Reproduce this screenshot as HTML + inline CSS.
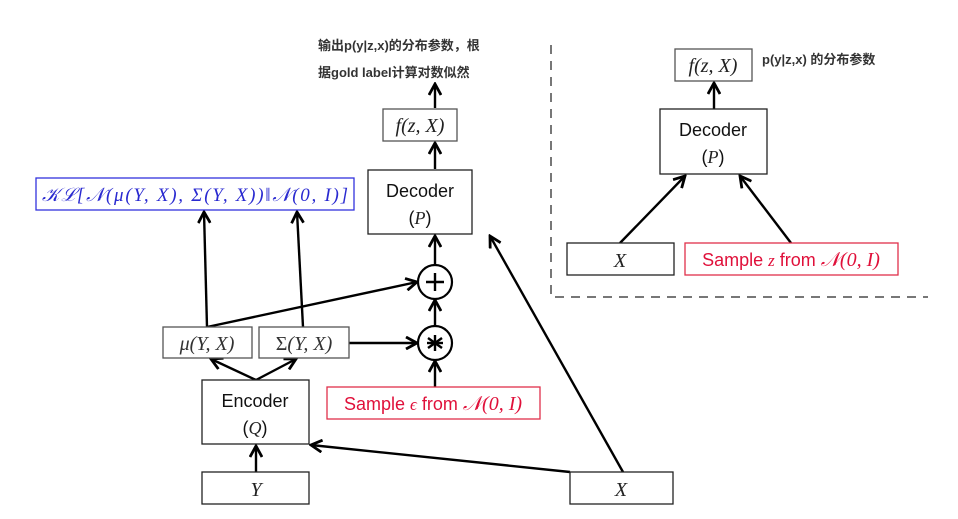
<!DOCTYPE html>
<html><head><meta charset="utf-8"><style>
html,body{margin:0;padding:0;background:#fff;}
svg{display:block;}
.cn{font-family:"Liberation Sans","Noto Sans CJK SC",sans-serif;font-size:13px;font-weight:bold;fill:#333;}
.m{font-family:"Liberation Serif",serif;font-style:italic;font-size:20px;fill:#222;}
.s{font-family:"Liberation Sans","DejaVu Sans",sans-serif;font-size:18px;fill:#111;}
</style></head><body>
<svg width="958" height="519" viewBox="0 0 958 519" xmlns="http://www.w3.org/2000/svg">
<defs>
<marker id="a" viewBox="0 0 14 14" refX="12" refY="7" markerWidth="14" markerHeight="14" markerUnits="userSpaceOnUse" orient="auto">
<polyline points="1,1 12,7 1,13" fill="none" stroke="#000" stroke-width="2.8"/>
</marker>
</defs>
<g fill="none" stroke="#000" stroke-width="2.4">
<line x1="435" y1="108" x2="435" y2="84" marker-end="url(#a)"/>
<line x1="435" y1="169" x2="435" y2="143" marker-end="url(#a)"/>
<line x1="435" y1="265" x2="435" y2="236" marker-end="url(#a)"/>
<line x1="435" y1="326" x2="435" y2="300" marker-end="url(#a)"/>
<line x1="435" y1="387" x2="435" y2="361" marker-end="url(#a)"/>
<line x1="207" y1="327" x2="417" y2="282" marker-end="url(#a)"/>
<line x1="349" y1="343" x2="417" y2="343" marker-end="url(#a)"/>
<line x1="207" y1="327" x2="204" y2="212" marker-end="url(#a)"/>
<line x1="303" y1="327" x2="297" y2="212" marker-end="url(#a)"/>
<line x1="256" y1="380" x2="211" y2="359" marker-end="url(#a)"/>
<line x1="256" y1="380" x2="296" y2="359" marker-end="url(#a)"/>
<line x1="256" y1="472" x2="256" y2="446" marker-end="url(#a)"/>
<line x1="570" y1="472" x2="311" y2="445" marker-end="url(#a)"/>
<line x1="623" y1="472" x2="490" y2="236" marker-end="url(#a)"/>
<line x1="714" y1="109" x2="714" y2="83" marker-end="url(#a)"/>
<line x1="620" y1="243" x2="685" y2="176" marker-end="url(#a)"/>
<line x1="791" y1="243" x2="740" y2="176" marker-end="url(#a)"/>
</g>
<g fill="#fff" stroke-width="1.3">
<rect x="383" y="109" width="74" height="32" stroke="#555"/>
<rect x="368" y="170" width="104" height="64" stroke="#222"/>
<rect x="36" y="178" width="318" height="32" stroke="#3333dd"/>
<rect x="163" y="327" width="89" height="31" stroke="#555"/>
<rect x="259" y="327" width="90" height="31" stroke="#555"/>
<rect x="202" y="380" width="107" height="64" stroke="#222"/>
<rect x="327" y="387" width="213" height="32" stroke="#e0304a"/>
<rect x="202" y="472" width="107" height="32" stroke="#222"/>
<rect x="570" y="472" width="103" height="32" stroke="#222"/>
<circle cx="435" cy="282" r="17" stroke="#000" stroke-width="2.2"/>
<circle cx="435" cy="343" r="17" stroke="#000" stroke-width="2.2"/>
<rect x="675" y="49" width="77" height="32" stroke="#555"/>
<rect x="660" y="109" width="107" height="65" stroke="#222"/>
<rect x="567" y="243" width="107" height="32" stroke="#222"/>
<rect x="685" y="243" width="213" height="32" stroke="#e0304a"/>
</g>
<polyline points="551,45 551,297 928,297" fill="none" stroke="#777" stroke-width="2" stroke-dasharray="9,7"/>
<g stroke="#000" stroke-width="2.4">
<line x1="426" y1="282" x2="444" y2="282"/><line x1="435" y1="273" x2="435" y2="291"/>
<line x1="427" y1="343" x2="443" y2="343"/><line x1="435" y1="335" x2="435" y2="351"/>
<line x1="428" y1="338" x2="442" y2="348"/><line x1="442" y1="338" x2="428" y2="348"/>
</g>
<text class="cn" x="318" y="50">输出p(y|z,x)的分布参数，根</text>
<text class="cn" x="318" y="77">据gold label计算对数似然</text>
<text class="cn" x="762" y="64">p(y|z,x) 的分布参数</text>
<text class="m" x="420" y="132" text-anchor="middle">f(z, X)</text>
<text class="m" x="713" y="72" text-anchor="middle">f(z, X)</text>
<text class="s" x="420" y="197" text-anchor="middle">Decoder</text>
<text class="s" x="420" y="224" text-anchor="middle">(<tspan class="m" style="font-size:18px">P</tspan>)</text>
<text class="s" x="713" y="136" text-anchor="middle">Decoder</text>
<text class="s" x="713" y="163" text-anchor="middle">(<tspan class="m" style="font-size:18px">P</tspan>)</text>
<text class="s" x="255" y="407" text-anchor="middle">Encoder</text>
<text class="s" x="255" y="434" text-anchor="middle">(<tspan class="m" style="font-size:18px">Q</tspan>)</text>
<text class="m" x="195" y="201" text-anchor="middle" style="fill:#2a2ad0;font-size:19px" textLength="306">𝒦ℒ[𝒩(μ(Y, X), Σ(Y, X))‖𝒩(0, I)]</text>
<text class="m" x="207" y="350" text-anchor="middle" style="fill:#333">μ(Y, X)</text>
<text class="m" x="304" y="350" text-anchor="middle" style="fill:#333"><tspan style="font-style:normal">Σ</tspan>(Y, X)</text>
<text class="s" x="433" y="410" text-anchor="middle" style="fill:#e0103a">Sample <tspan class="m" style="fill:#e0103a;font-size:17px">ϵ</tspan> from <tspan class="m" style="fill:#e0103a">𝒩(0, I)</tspan></text>
<text class="s" x="791" y="266" text-anchor="middle" style="fill:#e0103a">Sample <tspan class="m" style="fill:#e0103a;font-size:17px">z</tspan> from <tspan class="m" style="fill:#e0103a">𝒩(0, I)</tspan></text>
<text class="m" x="256" y="496" text-anchor="middle">Y</text>
<text class="m" x="621" y="496" text-anchor="middle">X</text>
<text class="m" x="620" y="267" text-anchor="middle">X</text>
</svg>
</body></html>
